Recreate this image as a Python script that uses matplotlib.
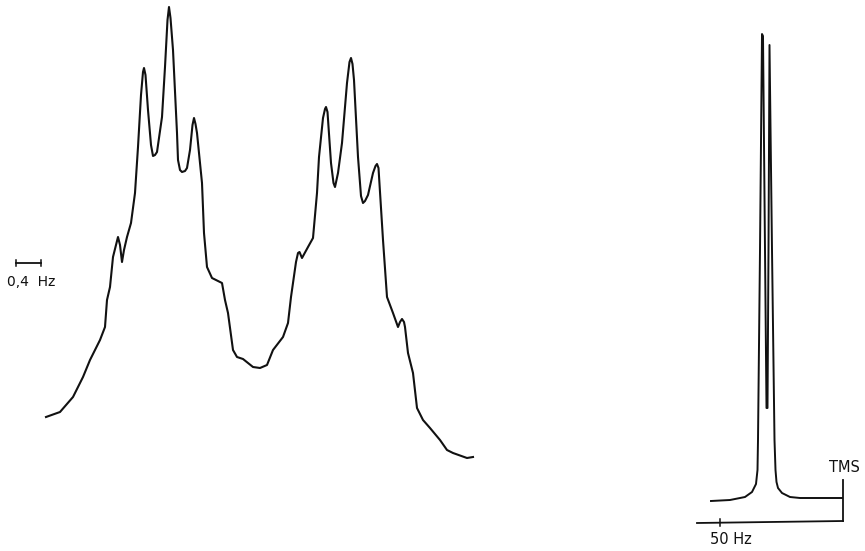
import matplotlib
matplotlib.use('Agg')
import matplotlib.pyplot as plt

# multiplet trace (x position, pen height) in pixel units
multiplet_x = [46, 60, 73, 83, 90, 100, 105, 107, 110, 113, 116, 118, 120, 122, 124, 127, 131,
               135, 138, 141, 143, 144, 145.5, 148, 151, 153, 155, 157, 162, 165, 167.5, 169,
               170.5, 173, 177, 178, 180, 182, 185, 187, 190, 192.5, 194, 195.5, 197, 202,
               204, 207, 212, 222, 225, 228, 233, 237, 243, 253, 260, 267, 273, 283, 288,
               291, 296, 298, 299.5, 302, 308, 313, 317, 319, 323, 325, 326, 327.5, 331,
               333.5, 335, 338, 342, 347, 349.5, 351, 352.5, 354, 358, 361, 363, 365, 368,
               373, 375.5, 377, 378.5, 383, 387, 393, 398, 400, 402, 404, 405, 408, 413,
               417, 423, 430, 440, 447, 453, 467, 473]
multiplet_y = [417, 412, 397, 377, 360, 340, 327, 300, 287, 257, 245, 237, 245, 262, 250, 237,
               223, 193, 147, 95, 72, 68, 75, 110, 145, 156, 155, 152, 117, 67, 20, 7,
               18, 50, 133, 160, 170, 172, 171, 168, 150, 125, 118, 124, 133, 183, 233,
               267, 278, 283, 300, 313, 350, 357, 359, 367, 368, 365, 350, 337, 323, 297,
               262, 253, 252, 258, 247, 238, 193, 157, 118, 109, 107, 112, 163, 183, 187,
               173, 143, 83, 62, 58, 64, 80, 157, 196, 203, 201, 195, 173, 166, 164, 168,
               240, 297, 313, 327, 322, 319, 322, 327, 353, 373, 408, 420, 428, 440, 450,
               453, 458, 457]

# TMS reference doublet
tms_x = [711, 730, 745, 752, 756, 757.5, 758, 760, 762, 763, 765, 766.5, 767.5, 768.5, 769.5,
         772, 774.5, 775.5, 776.5, 778, 782, 790, 800, 842]
tms_y = [501, 500, 497, 492, 484, 470, 440, 250, 34, 36, 250, 408, 408, 250, 45, 250, 440,
         470, 482, 488, 493, 497, 498, 498]

INK = '#111111'

fig = plt.figure(figsize=(8.65, 5.51), dpi=100)
ax = fig.add_axes([0, 0, 1, 1])
ax.set_xlim(0, 865)
ax.set_ylim(551, 0)
ax.axis('off')

ax.plot(multiplet_x, multiplet_y, color=INK, lw=1.5, solid_joinstyle='round')
ax.plot(tms_x, tms_y, color=INK, lw=1.4, solid_joinstyle='round')

# 0,4 Hz scale bar
ax.plot([16, 41], [263, 263], color=INK, lw=1.3)
ax.plot([16, 16], [260, 266], color=INK, lw=1.1)
ax.plot([41, 41], [260, 266], color=INK, lw=1.1)
ax.text(7, 282, '0,4  Hz', fontsize=10, ha='left', va='center', color=INK)

# sweep frame under the TMS peak
ax.plot([697, 843], [523, 521], color=INK, lw=1.3)
ax.plot([843, 843], [480, 521], color=INK, lw=1.3)
ax.plot([720, 720], [519, 526], color=INK, lw=1.1)
ax.text(710, 540, '50 Hz', fontsize=10.5, ha='left', va='center', color=INK)
ax.text(844, 468, 'TMS', fontsize=10.5, ha='center', va='center', color=INK)

fig.savefig('out.png', dpi=100, facecolor='white')
plt.close(fig)
